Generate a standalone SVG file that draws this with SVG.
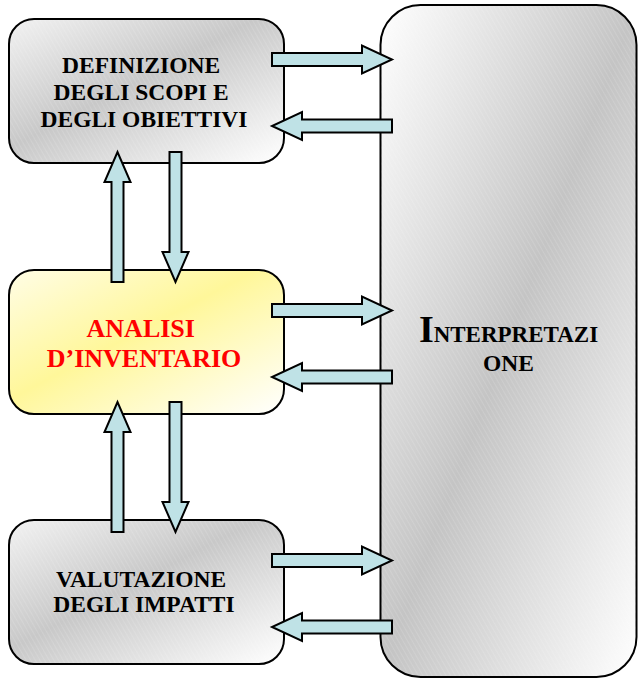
<svg xmlns="http://www.w3.org/2000/svg" width="638" height="679" viewBox="0 0 638 679">
  <style>
    .box { stroke: #000; stroke-width: 2; }
    .grey { fill: url(#greyFill); }
    .big { fill: url(#bigFill); }
    .yellow { fill: url(#yellowFill); }
    .hatch { fill: url(#hatch); stroke: none; }
    .lbl { font-family: "Liberation Serif", "Times New Roman", serif; font-weight: bold; text-anchor: middle; fill: #000; }
    .red { fill: #ff0000; }
    .arrow { fill: #bfe2e6; stroke: #000; stroke-width: 2; stroke-linejoin: miter; }
  </style>
  <defs>
    <linearGradient id="greyFill" x1="0" y1="0" x2="1" y2="1">
      <stop offset="0" stop-color="#f2f2f2"/>
      <stop offset="0.45" stop-color="#c8c8c8"/>
      <stop offset="1" stop-color="#ffffff"/>
    </linearGradient>
    <linearGradient id="bigFill" x1="0" y1="0" x2="1" y2="1">
      <stop offset="0" stop-color="#ffffff"/>
      <stop offset="0.5" stop-color="#c4c4c4"/>
      <stop offset="1" stop-color="#ffffff"/>
    </linearGradient>
    <linearGradient id="yellowFill" x1="0" y1="0" x2="1" y2="1">
      <stop offset="0" stop-color="#fffde6"/>
      <stop offset="0.45" stop-color="#fff79a"/>
      <stop offset="1" stop-color="#ffffff"/>
    </linearGradient>
    <!-- fine diagonal hatching laid over the grey fills -->
    <pattern id="hatch" width="4" height="4" patternUnits="userSpaceOnUse" patternTransform="rotate(-30)">
      <line x1="0" y1="0" x2="0" y2="4" stroke="#ffffff" stroke-width="1" stroke-opacity="0.25"/>
    </pattern>
    <!-- block arrows, drawn pointing right from the origin -->
    <path id="harrow" d="M0,-6.5 H90 V-14 L120,0 L90,14 V6.5 H0 Z"/>
    <path id="varrow" d="M0,-6 H100 V-13 L130,0 L100,13 V6 H0 Z"/>
  </defs>

  <g id="interpretazione">
    <rect class="box big" x="380.5" y="5" width="256" height="672" rx="40"/>
    <rect class="hatch" x="381.5" y="6" width="254" height="670" rx="39"/>
    <text class="lbl" x="508.5" y="342.3" font-size="23"><tspan font-size="38">I</tspan>NTERPRETAZI</text>
    <text class="lbl" x="508.5" y="370.7" font-size="23.5">ONE</text>
  </g>

  <g id="definizione">
    <rect class="box grey" x="9" y="19" width="275" height="144" rx="25"/>
    <rect class="hatch" x="10" y="20" width="273" height="142" rx="24"/>
    <text class="lbl" font-size="23.5">
      <tspan x="144" y="73">DEFINIZIONE</tspan>
      <tspan x="144" y="100">DEGLI SCOPI E</tspan>
      <tspan x="144" y="127">DEGLI OBIETTIVI</tspan>
    </text>
  </g>

  <g id="analisi">
    <rect class="box yellow" x="9" y="270" width="275" height="144" rx="25"/>
    <text class="lbl red" font-size="26">
      <tspan x="144" y="337">ANALISI</tspan>
      <tspan x="144" y="367">D’INVENTARIO</tspan>
    </text>
  </g>

  <g id="valutazione">
    <rect class="box grey" x="9" y="520" width="275" height="144" rx="25"/>
    <rect class="hatch" x="10" y="521" width="273" height="142" rx="24"/>
    <text class="lbl" font-size="23.5">
      <tspan x="144" y="587">VALUTAZIONE</tspan>
      <tspan x="144" y="612">DEGLI IMPATTI</tspan>
    </text>
  </g>

  <g id="connectors">
    <!-- left column boxes to and from the interpretation panel -->
    <use href="#harrow" class="arrow" transform="translate(272,59.5)"/>
    <use href="#harrow" class="arrow" transform="translate(392,126) rotate(180)"/>
    <use href="#harrow" class="arrow" transform="translate(272,310.5)"/>
    <use href="#harrow" class="arrow" transform="translate(392,377) rotate(180)"/>
    <use href="#harrow" class="arrow" transform="translate(272,560.5)"/>
    <use href="#harrow" class="arrow" transform="translate(392,627) rotate(180)"/>
    <!-- vertical links between the stacked boxes -->
    <use href="#varrow" class="arrow" transform="translate(117.5,282) rotate(-90)"/>
    <use href="#varrow" class="arrow" transform="translate(175.5,152) rotate(90)"/>
    <use href="#varrow" class="arrow" transform="translate(117.5,532) rotate(-90)"/>
    <use href="#varrow" class="arrow" transform="translate(175.5,402) rotate(90)"/>
  </g>
</svg>
